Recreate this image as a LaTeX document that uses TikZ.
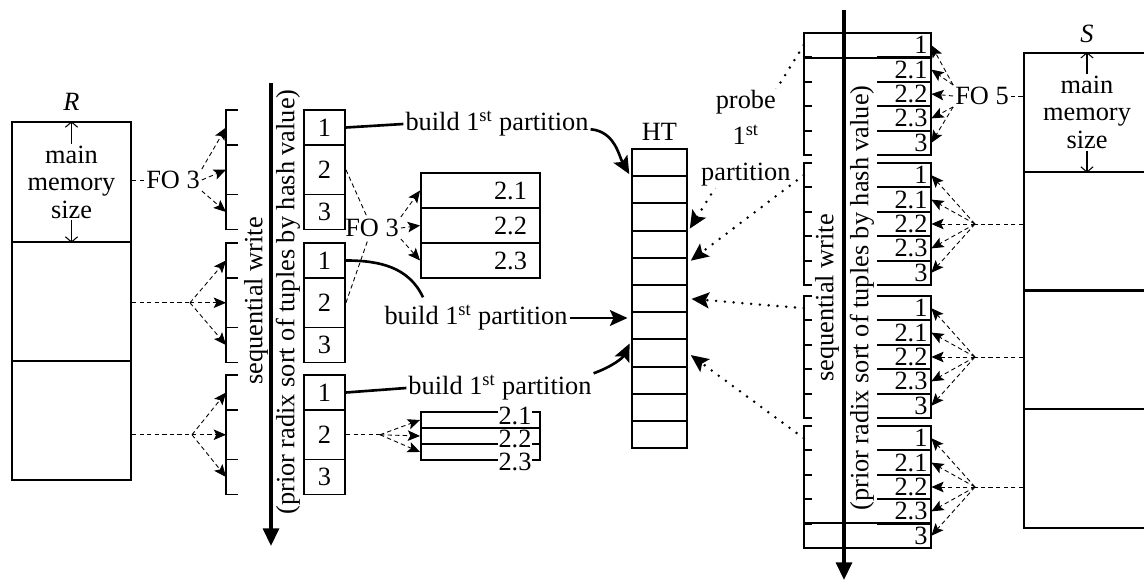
\documentclass[tikz,border=0pt]{standalone}
\usepackage{fontspec}
\setmainfont{Liberation Serif}
\usetikzlibrary{arrows.meta,positioning,calc}

\begin{document}
\begin{tikzpicture}[x=0.02cm, y=-0.02cm,
    every node/.style={font=\fontsize{15}{15.6}\selectfont, inner sep=1pt},
    line/.style={line width=1.1pt},
    chunk/.style={rectangle, draw, line width=1.1pt, minimum width=2.38cm, minimum height=2.39cm, inner sep=0pt},
    schunk/.style={chunk, minimum width=2.52cm, minimum height=2.375cm},
    rpcell/.style={rectangle, draw, line width=1.1pt, minimum width=0.82cm, inner sep=0pt},
    spcell/.style={rectangle, minimum height=0.488cm, text width=2.4cm, align=right, inner xsep=0.07cm, inner ysep=0pt},
    bcell/.style={rectangle, draw, line width=1.1pt, minimum height=0.7cm, text width=1.86cm, inner xsep=0.26cm, inner ysep=0pt, align=right},
    ccell/.style={rectangle, draw, line width=1.1pt, minimum width=2.38cm, minimum height=0.32cm, inner sep=0pt},
    clabel/.style={fill=white, inner sep=0.3pt, text height=10pt, text depth=0pt},
    htcell/.style={rectangle, draw, line width=1.1pt, minimum width=1.1cm, minimum height=0.544cm, inner sep=0pt},
    fan/.style={line width=0.5pt, dash pattern=on 2.5pt off 1.8pt},
    fanarrow/.style={fan, -{Stealth[length=7pt,width=6pt,inset=1.5pt]}},
    memarrow/.style={line width=0.6pt, -{Straight Barb[length=3pt,width=7pt]}},
    buildline/.style={line width=1.5pt},
    build/.style={buildline, -{Stealth[length=10pt,width=9pt,inset=2pt]}, shorten >=2pt},
    probe/.style={line width=1.6pt, line cap=round, dash pattern=on 0pt off 5pt, -{Stealth[length=10pt,width=9pt,inset=2pt]}, shorten >=2pt},
    seq/.style={line width=1.9pt, -{Triangle[length=10pt,width=9pt]}}
]
\useasboundingbox (0,0) rectangle (1144,581);

% relation R in main memory sized chunks
\node[chunk] (r1) at (71.5,182) {};
\node[chunk] (r2) at (71.5,301.5) {};
\node[chunk] (r3) at (71.5,420.5) {};
\node[above=5pt of r1] (rname) {\textit{R}};
\node[align=center] (rmem) at (r1) {main\\memory\\size};
\draw[memarrow] (rmem.north) -- (r1.north);
\draw[memarrow] (rmem.south) -- (r1.south);

% partitions of R
\foreach \g/\gtop in {1/110,2/243,3/375} {
  \node[rpcell, minimum height=0.7cm] (rp\g1) at (324.5,{\gtop+17.5}) {1};
  \node[rpcell, minimum height=0.99cm] (rp\g2) at (324.5,{\gtop+59.75}) {2};
  \node[rpcell, minimum height=0.7cm] (rp\g3) at (324.5,{\gtop+102}) {3};
  \draw[line] (238,\gtop) -- (226,\gtop) -- (226,{\gtop+119.5}) -- (238,{\gtop+119.5});
  \draw[line] (226,{\gtop+35}) -- ++(12,0) (226,{\gtop+84.5}) -- ++(12,0);
  \coordinate (rb\g1) at (226,{\gtop+17.5});
  \coordinate (rb\g2) at (226,{\gtop+59.75});
  \coordinate (rb\g3) at (226,{\gtop+102});
}
\coordinate (rseqtop) at (271,83);
\coordinate (rseqbot) at (271,546);
\draw[seq] (rseqtop) -- (rseqbot);
\node[rotate=90] (rseqtxt) at (256,301) {sequential write};
\node[rotate=90] (rsorttxt) at (288,302) {(prior radix sort of tuples by hash value)};

% fan out R
\node (fo3a) at (173,180) {FO 3};
\draw[fan] (fo3a.west -| r1.east) -- (fo3a.west);
\draw[fanarrow] (fo3a.north east) -- (rb11);
\draw[fanarrow] (fo3a.east) -- (rb12);
\draw[fanarrow] (fo3a.south east) -- (rb13);
\coordinate (rs2) at (190,302.75);
\coordinate (rs3) at (192,434.75);
\draw[fan] (rs2 -| r2.east) -- (rs2);
\draw[fan] (rs3 -| r3.east) -- (rs3);
\foreach \g in {2,3}
  \foreach \k in {1,2,3}
    \draw[fanarrow] (rs\g) -- (rb\g\k);

% second partitioning pass
\node[bcell] (b1) at (480.5,190.5) {2.1};
\node[bcell] (b2) at (480.5,225.5) {2.2};
\node[bcell] (b3) at (480.5,260.5) {2.3};
\node (fo3b) at (372,228) {FO 3};
\draw[fan] (rp12.east) -- (fo3b);
\draw[fan] (rp22.east) -- (fo3b);
\draw[fanarrow] (fo3b.north east) -- (b1.west);
\draw[fanarrow] (fo3b.east) -- (b2.west);
\draw[fanarrow] (fo3b.south east) -- (b3.west);

\foreach \k in {1,2,3}
  \node[ccell] (c\k) at (480.5,{404+16*\k}) {};
\node[clabel] (cl1) at (515,416) {2.1};
\node[clabel] (cl2) at (515,439) {2.2};
\node[clabel] (cl3) at (515,462) {2.3};
\coordinate (csplit) at (380,434.75);
\draw[fan] (rp32.east) -- (csplit);
\foreach \k in {1,2,3}
  \draw[fanarrow] (csplit) -- (c\k.west);

% hash table
\foreach \i in {1,...,11}
  \node[htcell] (ht\i) at (659.5,{149+27.2*(\i-0.5)}) {};
\node[above=3pt of ht1] (htlbl) {HT};

% build phase
\node (build1) at (497,124) {build 1\textsuperscript{st} partition};
\draw[buildline] (rp11.east) -- (build1.west);
\draw[build] ([yshift=-3pt]build1.east) to[out=-5,in=120] (ht1.south west);
\node (build2) at (476,318) {build 1\textsuperscript{st} partition};
\draw[buildline] (rp21.east) to[out=0,in=115] ([xshift=-1.06cm,yshift=0.12cm]build2.north);
\draw[build] (build2.east) -- (build2.east -| ht7.west);
\node (build3) at (500,388) {build 1\textsuperscript{st} partition};
\draw[buildline] (rp31.east) -- (build3.west);
\draw[build] (build3.north east) to[out=20,in=-115] (ht7.south west);

% relation S in main memory sized chunks
\node[schunk] (s1) at (1087,112.4) {};
\node[schunk] (s2) at (1087,231.1) {};
\node[schunk] (s3) at (1087,349.9) {};
\node[schunk] (s4) at (1087,468.6) {};
\node[above=4pt of s1] (sname) {\textit{S}};
\node[align=center] (smem) at (s1) {main\\memory\\size};
\draw[memarrow] (smem.north) -- (s1.north);
\draw[memarrow] (smem.south) -- (s1.south);

% partitions of S
\foreach \g/\gtop in {1/33,2/163,3/296,4/426} {
  \foreach \k/\lab in {1/1,2/2.1,3/2.2,4/2.3,5/3}
    \node[spcell] (sp\g\k) at (867.5,{\gtop+24.4*\k-12.2}) {\lab};
  \draw[line] (812,\gtop) -- (804,\gtop) -- (804,{\gtop+122}) -- (812,{\gtop+122});
  \draw[line] (877,\gtop) -- (931,\gtop) -- (931,{\gtop+122}) -- (877,{\gtop+122});
  \foreach \k in {1,...,4}
    \draw[line] (804,{\gtop+24.4*\k}) -- ++(8,0) (877,{\gtop+24.4*\k}) -- ++(54,0);
}
\draw[line] (sp11.north west) -- (sp11.north east) (sp11.south west) -- (sp11.south east);
\draw[line] (sp45.north west) -- (sp45.north east) (sp45.south west) -- (sp45.south east);
\coordinate (sseqtop) at (844,10);
\coordinate (sseqbot) at (844,580);
\draw[seq] (sseqtop) -- (sseqbot);
\node[rotate=90] (sseqtxt) at (827,298) {sequential write};
\node[rotate=90] (ssorttxt) at (862,298) {(prior radix sort of tuples by hash value)};

% fan out S
\node (fo5) at (982,96) {FO 5};
\draw[fan] (fo5.east) -- (fo5.east -| s1.west);
\draw[fanarrow] (fo5.north west) -- (sp11.east);
\draw[fanarrow] (fo5.north west) -- (sp12.east);
\draw[fanarrow] (fo5.west) -- (sp13.east);
\draw[fanarrow] (fo5.south west) -- (sp14.east);
\draw[fanarrow] (fo5.south west) -- (sp15.east);
\foreach \g in {2,3,4} {
  \coordinate (ss\g) at (975,0 |- sp\g3.east);
  \draw[fan] (ss\g -| s\g.west) -- (ss\g);
  \foreach \k in {1,...,5}
    \draw[fanarrow] (ss\g) -- (sp\g\k.east);
}

% probe phase
\draw[probe] (sp11.west) -- node[fill=white, align=center, font=\fontsize{15}{20.5}\selectfont] (probelbl) {probe\\1\textsuperscript{st}\\partition} (ht3.south east);
\draw[probe] (sp21.west) -- ([yshift=-3.4pt]ht5.north east);
\draw[probe] (sp31.west) -- (ht6.east);
\draw[probe] (sp41.west) -- (ht8.east);
\end{tikzpicture}
\end{document}
